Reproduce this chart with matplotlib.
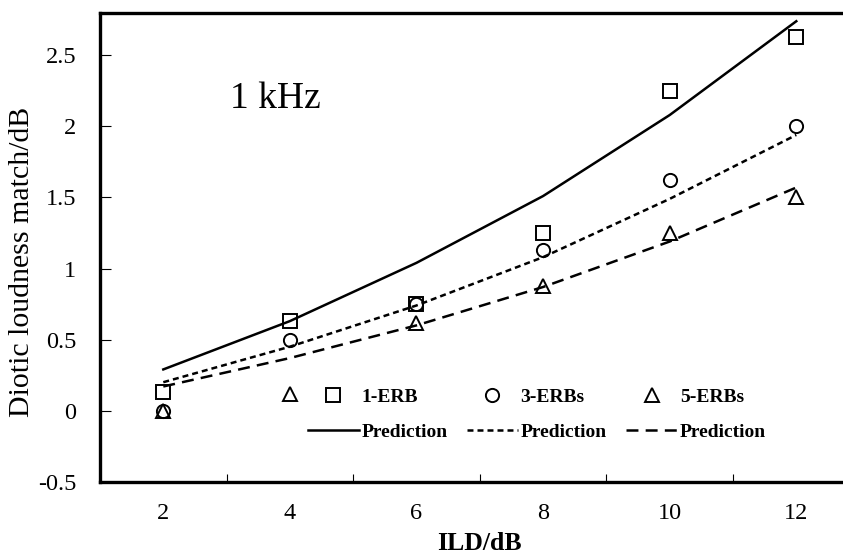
import numpy as np
import matplotlib.pyplot as plt
from matplotlib.ticker import MultipleLocator, FixedLocator

plt.rcParams['font.family'] = ['Liberation Serif', 'DejaVu Serif']
plt.rcParams['lines.scale_dashes'] = False

# datos
ild = [2, 4, 6, 8, 10, 12]
erb1 = [0.13, 0.63, 0.75, 1.25, 2.25, 2.63]
erb3 = [0.0, 0.50, 0.75, 1.13, 1.62, 2.00]
erb5 = [0.0, 0.12, 0.62, 0.88, 1.25, 1.50]
pred1 = [0.29, 0.63, 1.04, 1.51, 2.08, 2.74]
pred3 = [0.20, 0.45, 0.74, 1.08, 1.49, 1.94]
pred5 = [0.17, 0.37, 0.60, 0.87, 1.19, 1.57]

fig = plt.figure(figsize=(8.43, 5.55), dpi=100)
ax = fig.add_axes([100/843, 73.3/555, 759.6/843, 469/555])

lw = 1.8
ms = 9.5
l1, = ax.plot(ild, pred1, color='black', lw=lw, label='Prediction')
l3, = ax.plot(ild, pred3, color='black', lw=lw, dashes=(4.3, 2.9), label='Prediction')
l5, = ax.plot(ild, pred5, color='black', lw=lw, dashes=(8.6, 5.2), label='Prediction')
m1, = ax.plot(ild, erb1, ls='none', marker='s', ms=ms, mfc='none', mec='black', mew=1.4, label='1-ERB')
m3, = ax.plot(ild, erb3, ls='none', marker='o', ms=ms, mfc='none', mec='black', mew=1.4, label='3-ERBs')
m5, = ax.plot(ild, erb5, ls='none', marker='^', ms=ms, mfc='none', mec='black', mew=1.4, label='5-ERBs')

ax.set_xlim(1, 13)
ax.set_ylim(-0.5, 2.8)
ax.xaxis.set_major_locator(FixedLocator(ild))
ax.xaxis.set_minor_locator(FixedLocator([3, 5, 7, 9, 11]))
ax.yaxis.set_major_locator(MultipleLocator(0.5))
ax.yaxis.set_major_formatter(plt.FuncFormatter(lambda v, p: ('%g' % v)))
ax.tick_params(axis='x', which='major', length=0, pad=15, labelsize=17.5)
ax.tick_params(axis='x', which='minor', direction='in', length=6, width=0.8)
ax.tick_params(axis='y', which='major', direction='in', length=8, width=0.8, pad=17, labelsize=17.5)

for s in ['left', 'bottom', 'top']:
    ax.spines[s].set_linewidth(2.4)
ax.spines['right'].set_visible(False)

ax.set_xlabel('ILD/dB', fontsize=18.5, fontweight='bold', labelpad=6)
ax.set_ylabel('Diotic loudness match/dB', fontsize=21.5)
ax.yaxis.set_label_coords(-0.0856, 0.468)

ax.text(3.05, 2.13, '1 kHz', fontsize=27, ha='left', va='baseline')

ax.legend(handles=[m1, l1, m3, l3, m5, l5], ncol=3, frameon=False,
          prop={'weight': 'bold', 'size': 14}, handlelength=2.6, handletextpad=0.15,
          columnspacing=1.0, labelspacing=0.9, borderpad=0,
          loc='center', bbox_to_anchor=(537/843, (555-414.5)/555),
          bbox_transform=fig.transFigure)

fig.savefig('out.png', dpi=100)
